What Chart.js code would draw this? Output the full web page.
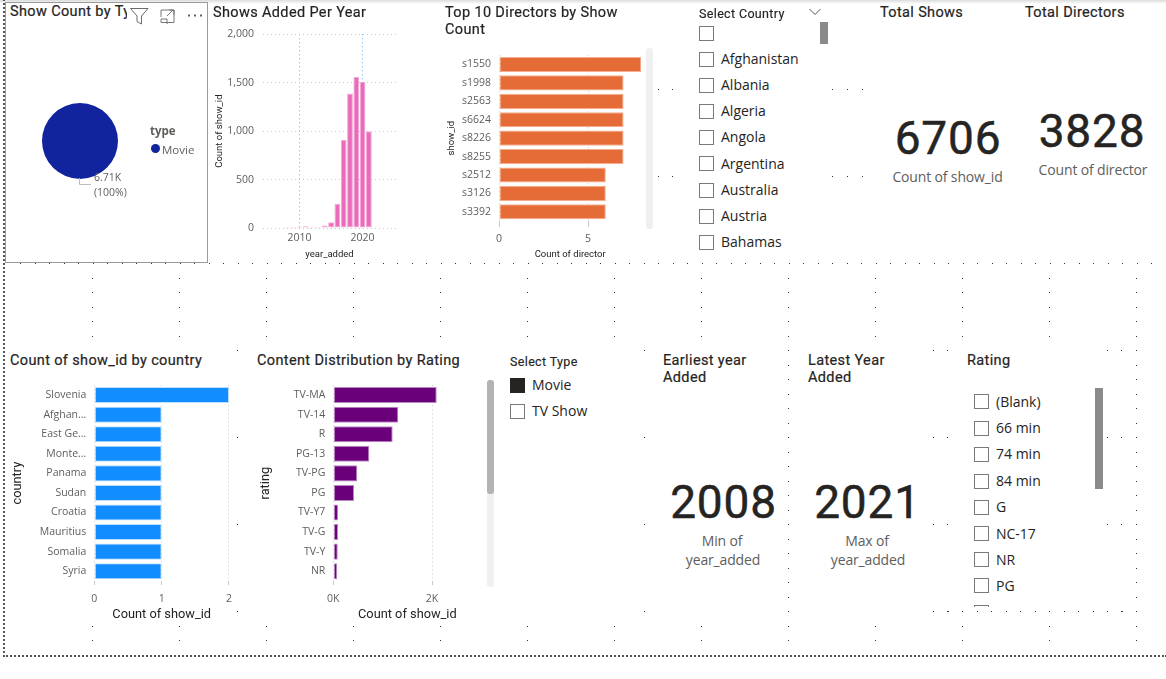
<!DOCTYPE html>
<html>
<head>
<meta charset="utf-8">
<script src="https://cdn.jsdelivr.net/npm/chart.js@4/dist/chart.umd.min.js"></script>
<style>
  html, body { margin: 0; padding: 0; background: #fff; overflow: hidden; }
  body { width: 1166px; height: 679px; position: relative; font-family: "Open Sans", sans-serif; }
  canvas { position: absolute; }
  .t { position: absolute; white-space: nowrap; transform: translateY(-50%); line-height: 1; }
  .c { transform: translate(-50%, -50%); }
  .title { font: 400 14.5px Roboto, sans-serif; color: #252423; letter-spacing: .36px; -webkit-text-stroke: .2px #252423; }
  .head { font: 400 12.5px Roboto, sans-serif; color: #252423; letter-spacing: .35px; -webkit-text-stroke: .15px #252423; }
  .big { font: 400 46px Roboto, sans-serif; color: #252423; letter-spacing: .8px; -webkit-text-stroke: .5px #252423; }
  .sub { font: 400 14px "Open Sans", sans-serif; color: #605e5c; letter-spacing: -.15px; }
  .item { font: 400 14px "Open Sans", sans-serif; color: #252423; }
  .box { position: absolute; width: 13px; height: 13px; border: 1px solid #7a7a7a; background: #fff; }
  .abs { position: absolute; }
  .dot { position: absolute; width: 1px; height: 1px; background: #333; }
</style>
</head>
<body>
<div class="abs" style="left:0;top:0;width:1166px;height:4px;background:linear-gradient(#dcdcdc,#fff)"></div>
<div class="abs" style="left:3px;top:-4px;width:1161px;height:659px;border-left:2px dotted #555;border-bottom:2px dotted #555;border-right:1px dashed #555"></div>
<div class="abs" id="dots"></div>
<div class="abs" style="left:5px;top:2px;width:201px;height:259px;border:1px solid #9a9a9a;background:#fff"></div>

<canvas id="pieChart" style="left:42px;top:103px" width="76" height="76"></canvas>
<canvas id="yearChart" style="left:210px;top:19px" width="192" height="243"></canvas>
<canvas id="directorChart" style="left:443px;top:41px" width="204" height="221"></canvas>
<canvas id="countryChart" style="left:8px;top:371px" width="232" height="251"></canvas>
<canvas id="ratingChart" style="left:255px;top:371px" width="230" height="251"></canvas>

<!-- pie visual header icons -->
<svg class="abs" style="left:128px;top:6px" width="80" height="20" fill="none" stroke="#6b6b6b" stroke-width="1">
  <path d="M2.5 2.5 H20 L13.5 10 V18 L9 15.5 V10 Z"/>
  <path d="M33 11 V4 H46 V16.5 H33 V13 H39 V18" stroke="#777"/>
  <path d="M39 10 L45 4 M41 4 H46 V9" stroke="#777"/>
  <path d="M60 9.5 h2 M66 9.5 h2 M72 9.5 h2" stroke="#666" stroke-width="2"/>
</svg>
<svg class="abs" style="left:76px;top:176px" width="20" height="12" fill="none" stroke="#bdbdbd" stroke-width="1">
  <path d="M3.5 2 V8.5 H15"/>
</svg>
<svg class="abs" style="left:808px;top:7px" width="14" height="10" fill="none" stroke="#555" stroke-width="1">
  <path d="M1.5 2 L7 7.5 L12.5 2"/>
</svg>

<!-- scrollbars -->
<div class="abs" style="left:646px;top:48px;width:7px;height:181px;border-radius:3px;background:#f0f0f0"></div>
<div class="abs" style="left:820px;top:22px;width:8px;height:22px;background:#8a8a8a"></div>
<div class="abs" style="left:487px;top:380px;width:7px;height:207px;border-radius:3px;background:#f0f0f0"></div>
<div class="abs" style="left:487px;top:380px;width:7px;height:114px;border-radius:3px;background:#b3b3b3"></div>
<div class="abs" style="left:1095px;top:388px;width:8px;height:101px;background:#8a8a8a"></div>

<div class="abs" id="texts" style="left:0;top:0"></div>

<script>
'use strict';

// pie
const typeLabels = ['Movie'];
const typeValues = [6706];

// Shows Added Per Year
const years = [2008, 2009, 2010, 2011, 2012, 2013, 2014, 2015, 2016, 2017, 2018, 2019, 2020, 2021];
const yearCounts = [10, 10, 12, 18, 10, 10, 25, 60, 250, 910, 1390, 1560, 1510, 1000];
const yearTicks = [0, 500, 1000, 1500, 2000];
const yearXTicks = [2010, 2020];

// Top 10 Directors
const directorIds = ['s1550', 's1998', 's2563', 's6624', 's8226', 's8255', 's2512', 's3126', 's3392'];
const directorCounts = [8, 7, 7, 7, 7, 7, 6, 6, 6];
const directorTicks = [0, 5];

// by country
const countries = ['Slovenia', 'Afghan...', 'East Ge...', 'Monte...', 'Panama', 'Sudan', 'Croatia', 'Mauritius', 'Somalia', 'Syria'];
const countryCounts = [2, 1, 1, 1, 1, 1, 1, 1, 1, 1];
const countryTicks = [0, 1, 2];

// by rating
const ratings = ['TV-MA', 'TV-14', 'R', 'PG-13', 'TV-PG', 'PG', 'TV-Y7', 'TV-G', 'TV-Y', 'NR'];
const ratingCounts = [2095, 1317, 1203, 730, 486, 420, 95, 95, 90, 80];
const ratingTicks = [0, 2000];

// slicers
const countryOptions = ['', 'Afghanistan', 'Albania', 'Algeria', 'Angola', 'Argentina', 'Australia', 'Austria', 'Bahamas'];
const countryRows = [33, 59, 85, 111, 137, 163.5, 190, 216, 242];
const typeOptions = ['Movie', 'TV Show'];
const typeRows = [385, 411];
const ratingOptions = ['(Blank)', '66 min', '74 min', '84 min', 'G', 'NC-17', 'NR', 'PG'];
const ratingRows = [401.5, 428, 454, 481, 507, 533.5, 559.5, 585.5];

Chart.defaults.animation = false;
Chart.defaults.responsive = false;
Chart.defaults.devicePixelRatio = 1;
Chart.defaults.layout.autoPadding = false;
Chart.defaults.plugins.legend.display = false;
Chart.defaults.plugins.tooltip.enabled = false;

const TICK = '#605e5c';
const INK = '#252423';
const GRID = '#c8c8c8';
const DOT = [1, 3];
const tickFont = { family: 'Open Sans', size: 10.5 };

function fixTicks(list) {
  return axis => { axis.ticks = list.map(v => ({ value: v })); };
}

function axisTitle(text, size, pad) {
  return { display: true, text, color: INK, padding: pad, font: { family: 'Roboto', size, weight: '400' } };
}

function hbar(id, labels, values, opt) {
  const cv = document.getElementById(id);
  new Chart(cv, {
    type: 'bar',
    data: {
      labels,
      datasets: [{
        data: values,
        backgroundColor: opt.color,
        borderColor: opt.edge,
        borderWidth: 1,
        borderSkipped: false,
        categoryPercentage: 1,
        barPercentage: 0.82,
      }],
    },
    options: {
      indexAxis: 'y',
      layout: { padding: { right: opt.right, top: opt.top } },
      scales: {
        y: {
          afterFit: s => { s.width = opt.axisW; },
          grid: { display: false, drawTicks: false },
          border: { display: false },
          ticks: { color: TICK, font: opt.tickFont, padding: 8, autoSkip: false },
          title: axisTitle(opt.yTitle, opt.titleSize, opt.yPad),
        },
        x: {
          min: 0,
          max: opt.max,
          afterFit: s => { s.height = opt.axisH; },
          afterBuildTicks: fixTicks(opt.ticks),
          grid: { color: GRID, drawTicks: true, tickLength: opt.tickLen, tickColor: GRID },
          border: { display: false, dash: DOT },
          ticks: { color: TICK, font: opt.tickFont, padding: opt.tickPad, maxRotation: 0, callback: opt.fmt },
          title: axisTitle(opt.xTitle, opt.titleSize, opt.xPad),
        },
      },
    },
  });
}

// pie
new Chart(document.getElementById('pieChart'), {
  type: 'pie',
  data: { labels: typeLabels, datasets: [{ data: typeValues, backgroundColor: ['#12239e'], borderWidth: 0 }] },
  options: { layout: { padding: 0 } },
});

// yearly columns
new Chart(document.getElementById('yearChart'), {
  type: 'bar',
  data: {
    datasets: [{
      data: years.map((y, i) => ({ x: y, y: yearCounts[i] })),
      backgroundColor: '#e96bb9',
      borderColor: '#f3a9d9',
      borderWidth: 1,
      borderSkipped: false,
      categoryPercentage: 1,
      barPercentage: 0.92,
    }],
  },
  options: {
    layout: { padding: { top: 13, right: 6 } },
    scales: {
      x: {
        type: 'linear',
        offset: false,
        min: 2004.2,
        max: 2025.3,
        afterFit: s => { s.height = 34; },
        afterBuildTicks: fixTicks(yearXTicks),
        grid: { color: '#62b5f0', drawTicks: false, offset: false },
        border: { display: false, dash: DOT },
        ticks: { color: TICK, font: tickFont, padding: 4, maxRotation: 0, callback: v => String(v) },
        title: axisTitle('year_added', 9.5, { top: 5, bottom: 2 }),
      },
      y: {
        min: 0,
        max: 2000,
        afterFit: s => { s.width = 53; },
        afterBuildTicks: fixTicks(yearTicks),
        grid: { color: GRID, drawTicks: false },
        border: { display: false, dash: DOT },
        ticks: { color: TICK, font: tickFont, padding: 9, callback: v => v.toLocaleString('en-US') },
        title: axisTitle('Count of show_id', 9.5, { top: 4, bottom: 0 }),
      },
    },
  },
});

hbar('directorChart', directorIds, directorCounts, {
  color: '#e66c37', edge: '#f4ae8f', axisW: 56, axisH: 41, top: 13.75, right: 5.6, max: 8, ticks: directorTicks,
  tickFont, tickLen: 6, tickPad: 6, titleSize: 9.5, yTitle: 'show_id', xTitle: 'Count of director',
  yPad: { top: 3, bottom: 0 }, xPad: { top: 5, bottom: 2 }, fmt: v => String(v),
});

hbar('countryChart', countries, countryCounts, {
  color: '#118dff', edge: '#bcdfff', axisW: 86.3, axisH: 41, top: 13.5, right: 3, max: 2, ticks: countryTicks,
  tickFont, tickLen: 4, tickPad: 8, titleSize: 12.8, yTitle: 'country', xTitle: 'Count of show_id',
  yPad: { top: 2, bottom: 0 }, xPad: { top: 3, bottom: 0 }, fmt: v => String(v),
});

hbar('ratingChart', ratings, ratingCounts, {
  color: '#6b007b', edge: '#b98cc1', axisW: 78.3, axisH: 41, top: 13.5, right: 3.6, max: 3000, ticks: ratingTicks,
  tickFont, tickLen: 4, tickPad: 8, titleSize: 12.8, yTitle: 'rating', xTitle: 'Count of show_id',
  yPad: { top: 3, bottom: 0 }, xPad: { top: 3, bottom: 0 }, fmt: v => (v / 1000) + 'K',
});

// text
const layer = document.getElementById('texts');
function put(text, x, y, cls, extra) {
  const el = document.createElement('div');
  el.className = 't ' + cls;
  el.textContent = text;
  el.style.left = x + 'px';
  el.style.top = y + 'px';
  if (extra) el.style.cssText += extra;
  layer.appendChild(el);
  return el;
}

put('Show Count by Ty', 10, 11.5, 'title', 'width:117px;overflow:hidden;line-height:18px');
put('Shows Added Per Year', 213, 11.5, 'title');
put('Top 10 Directors by Show', 445, 11.5, 'title');
put('Count', 445, 28.5, 'title');
put('Total Shows', 880, 11.5, 'title');
put('Total Directors', 1025, 11.5, 'title');
put('Count of show_id by country', 10, 359.5, 'title');
put('Content Distribution by Rating', 257, 359.5, 'title');
put('Earliest year', 663, 359.5, 'title');
put('Added', 663, 376.5, 'title');
put('Latest Year', 808, 359.5, 'title');
put('Added', 808, 376.5, 'title');
put('Rating', 967, 359.5, 'title');
put('Select Country', 699, 13, 'head');
put('Select Type', 510, 360.5, 'head');

put('type', 150, 130, 'item', 'font-size:11.5px;font-weight:700;color:#605e5c');
const swatch = document.createElement('div');
swatch.className = 'abs';
swatch.style.cssText = 'left:151px;top:144px;width:9px;height:9px;border-radius:50%;background:#12239e';
layer.appendChild(swatch);
put(typeLabels[0], 162, 149, 'item', 'font-size:11.5px;color:#605e5c');
put('6.71K', 94, 177, 'item', 'font-size:10.5px;color:#605e5c');
put('(100%)', 94, 192, 'item', 'font-size:10.5px;color:#605e5c');

put('6706', 948, 138, 'big c');
put('Count of show_id', 947.5, 175.5, 'sub c');
put('3828', 1092, 131, 'big c');
put('Count of director', 1093, 168.5, 'sub c');
put('2008', 723.5, 502, 'big c');
put('Min of', 722, 539.5, 'sub c');
put('year_added', 723, 558.5, 'sub c');
put('2021', 867.5, 502, 'big c');
put('Max of', 867, 539.5, 'sub c');
put('year_added', 868, 558.5, 'sub c');

function slicer(options, rows, boxX, textX, checked) {
  options.forEach((name, i) => {
    const b = document.createElement('div');
    b.className = 'box';
    b.style.left = boxX + 'px';
    b.style.top = (rows[i] - 7.5) + 'px';
    if (name === checked) { b.style.background = '#252423'; b.style.borderColor = '#252423'; }
    layer.appendChild(b);
    if (name) put(name, textX, rows[i] - 1, 'item');
  });
}
slicer(countryOptions, countryRows, 699, 721);
slicer(typeOptions, typeRows, 510, 532, 'Movie');
slicer(ratingOptions, ratingRows, 974, 996);

// clipped next row of the rating slicer
const clipRow = document.createElement('div');
clipRow.className = 'abs';
clipRow.style.cssText = 'left:974px;top:605px;width:15px;height:2px;border-top:1px solid #7a7a7a;border-left:1px solid #7a7a7a;border-right:1px solid #7a7a7a;box-sizing:border-box';
layer.appendChild(clipRow);

// report canvas grid dots
const dots = document.getElementById('dots');
function dot(x, y) {
  const d = document.createElement('div');
  d.className = 'dot';
  d.style.left = x + 'px';
  d.style.top = y + 'px';
  dots.appendChild(d);
}
for (let x = 20; x < 1160; x += 14.5) dot(Math.round(x), 263);
const majorX = [92, 179, 266, 353, 440, 527, 614, 701, 788, 875, 962, 1049, 1136];
[278, 292, 307, 321, 336, 626, 640].forEach(y => majorX.forEach(x => dot(x, y)));
[350, 437, 524, 611].forEach(y => [237, 644, 933, 947, 1107, 1121].forEach(x => dot(x, y)));
for (let y = 350; y <= 611; y += 14.5) { dot(788, Math.round(y)); dot(1136, Math.round(y)); }
for (let x = 933; x <= 1136; x += 14.5) dot(Math.round(x), 611);
[89, 176].forEach(y => [658, 672, 832, 847, 862].forEach(x => dot(x, y)));
</script>
</body>
</html>
